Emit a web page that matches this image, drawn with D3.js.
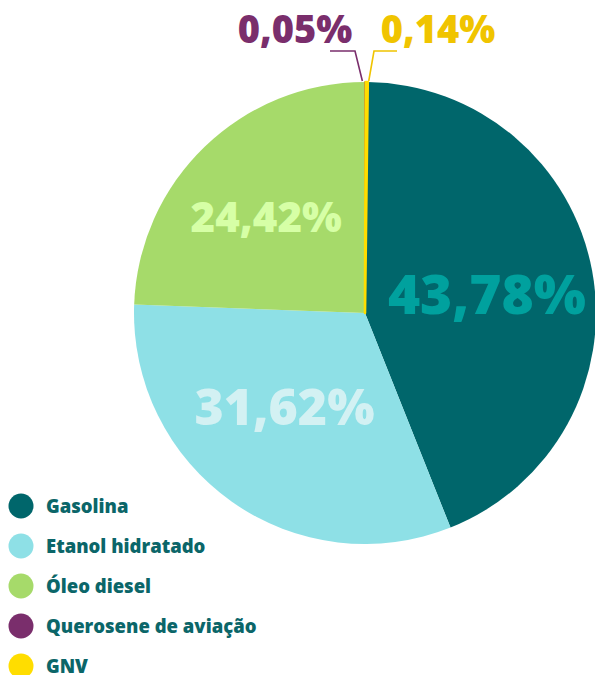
<!DOCTYPE html>
<html>
<head>
<meta charset="utf-8">
<script src="https://cdn.jsdelivr.net/npm/d3@7"></script>
<style>
  html, body { margin: 0; padding: 0; background: #fff; }
  svg { display: block; font-family: "Open Sans", "Noto Sans", sans-serif; }
</style>
</head>
<body>
<svg id="chart" width="595" height="675"></svg>
<script>
// Fuel share of consumption, clockwise from 12 o'clock
const categories = ["Querosene de aviação", "GNV", "Gasolina", "Etanol hidratado", "Óleo diesel"];
const shares = [0.05, 0.14, 43.78, 31.62, 24.42];
const sliceColors = ["#7a2e6c", "#ffdd00", "#00666b", "#8ee0e6", "#a6da6a"];
const labelColors = ["#7a2e6c", "#f0c400", "#00a19e", "#d3f1f3", "#d6ffa6"];

// Legend order
const legendOrder = ["Gasolina", "Etanol hidratado", "Óleo diesel", "Querosene de aviação", "GNV"];

const fmt = v => d3.format(".2f")(v).replace(".", ",") + "%";

const svg = d3.select("#chart");
const cx = 365, cy = 313, R = 231;

const data = categories.map((c, i) => ({ name: c, value: shares[i], color: sliceColors[i], label: labelColors[i] }));

const pie = d3.pie().value(d => d.value).sort(null).startAngle(0).endAngle(2 * Math.PI);
const arcs = pie(data);
const arc = d3.arc().innerRadius(0).outerRadius(R);

const g = svg.append("g").attr("transform", `translate(${cx},${cy})`);

// Large slices first, then the thin ones on top so they stay visible
const big = arcs.filter(d => d.data.value >= 1);
const tiny = arcs.filter(d => d.data.value < 1);

g.selectAll("path.slice")
  .data(big)
  .join("path")
  .attr("class", "slice")
  .attr("d", arc)
  .attr("fill", d => d.data.color);

const thinWidth = { "Querosene de aviação": 1.6, "GNV": 2.6 };
g.selectAll("path.thin")
  .data(tiny)
  .join("path")
  .attr("class", "thin")
  .attr("d", arc)
  .attr("fill", d => d.data.color)
  .attr("stroke", d => d.data.color)
  .attr("stroke-linejoin", "round")
  .attr("stroke-width", d => thinWidth[d.data.name]);

// Inside labels for the large slices
const labelR = { "Gasolina": 124, "Etanol hidratado": 124, "Óleo diesel": 138 };
const labelSize = { "Gasolina": 55, "Etanol hidratado": 50, "Óleo diesel": 42 };
const labelShift = { "Gasolina": [0, 4], "Etanol hidratado": [-9, -7], "Óleo diesel": [-3, 3] };

g.selectAll("text.inner")
  .data(big)
  .join("text")
  .attr("class", "inner")
  .attr("transform", d => {
    const a = (d.startAngle + d.endAngle) / 2;
    const r = labelR[d.data.name];
    const s = labelShift[d.data.name];
    return `translate(${r * Math.sin(a) + s[0]},${-r * Math.cos(a) + s[1]})`;
  })
  .attr("text-anchor", "middle")
  .attr("dy", "0.36em")
  .attr("font-weight", 800)
  .attr("font-size", d => labelSize[d.data.name])
  .attr("fill", d => d.data.label)
  .text(d => fmt(d.data.value));

// Outside labels with leader lines for the tiny slices
tiny.forEach((d, i) => {
  const a = (d.startAngle + d.endAngle) / 2;
  const left = i === 0;
  const p0 = [ (R + 1) * Math.sin(a) + (left ? -3 : 2), -(R + 1) * Math.cos(a) ];
  const elbow = [ left ? -10 : 9, -262 ];
  const end = [ left ? -35 : 32, -262 ];
  g.append("polyline")
    .attr("points", [p0, elbow, end].map(p => p.join(",")).join(" "))
    .attr("fill", "none")
    .attr("stroke", d.data.label)
    .attr("stroke-width", 1.6);
  g.append("text")
    .attr("x", left ? -70 : 73)
    .attr("y", -270)
    .attr("text-anchor", "middle")
    .attr("font-weight", 800)
    .attr("font-size", 38)
    .attr("fill", d.data.label)
    .text(fmt(d.data.value));
});

// Legend
const legend = svg.append("g").attr("transform", "translate(21,506)");
const byName = new Map(data.map(d => [d.name, d]));
const items = legend.selectAll("g.item")
  .data(legendOrder.map(n => byName.get(n)))
  .join("g")
  .attr("class", "item")
  .attr("transform", (d, i) => `translate(0,${i * 40})`);
items.append("circle").attr("r", 12.5).attr("fill", d => d.color);
items.append("text")
  .attr("x", 25)
  .attr("dy", "0.36em")
  .attr("font-weight", 800)
  .attr("font-size", 18.5)
  .attr("fill", "#0b6669")
  .text(d => d.name);
</script>
</body>
</html>
